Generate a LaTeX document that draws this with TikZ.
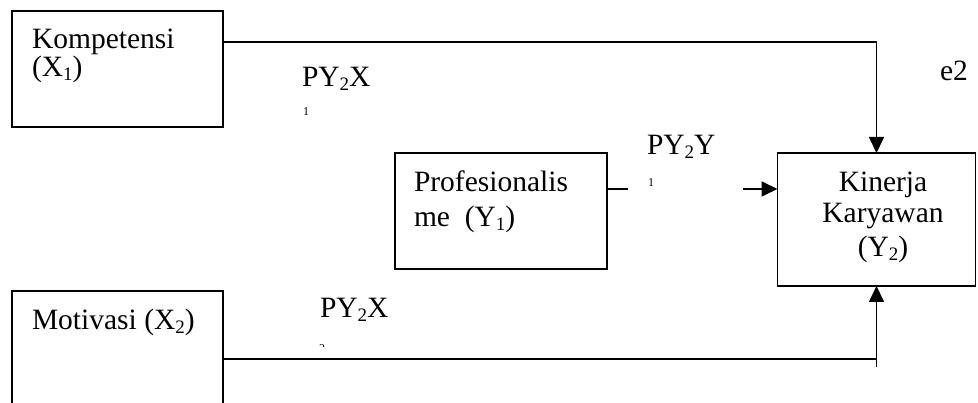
\documentclass[tikz,border=0pt]{standalone}
\usepackage{fontspec}
\setmainfont{Liberation Serif}
\usetikzlibrary{arrows.meta}
\newcommand\lowsub[1]{\raisebox{-4pt}{\fontsize{19}{19}\selectfont #1}}
\newcommand\tinydig[1]{{\fontsize{12}{12}\selectfont #1}}
\tikzset{
  boxnode/.style={draw, line width=1.8pt, inner sep=0pt, outer sep=0pt},
  txt/.style={inner sep=0pt, outer sep=0pt, font=\fontsize{29.5}{33}\selectfont},
  conn/.style={line width=1.7pt},
  arr/.style={line width=1.7pt, -{Triangle[length=16pt,width=15pt]}}
}
\begin{document}
\begin{tikzpicture}[x=1pt,y=-1pt]
\useasboundingbox (0,0) rectangle (978,403);
\clip (0,0) rectangle (978,403);
\fill[white] (0,0) rectangle (978,403);
% boxes
\node[boxnode, minimum width=211pt, minimum height=116pt] (komp) at (117.5,69) {};
\node[boxnode, minimum width=212pt, minimum height=116pt] (prof) at (501,211) {};
\node[boxnode, minimum width=198pt, minimum height=133pt] (kin) at (876.5,219.5) {};
\node[boxnode, minimum width=211pt, minimum height=140pt] (motiv) at (117.5,361) {};
% box texts
\node[txt, anchor=base west] (kompa) at (32,49) {Kompetensi};
\node[txt, anchor=base west] (kompb) at (32,77) {(X\lowsub{1})};
\node[txt, anchor=base west] (profa) at (414,192) {Profesionalis};
\node[txt, anchor=base west] (profb) at (414,227) {me\ \ (Y\lowsub{1})};
\node[txt, anchor=base] (kina) at (883,192) {Kinerja};
\node[txt, anchor=base] (kinb) at (883,223) {Karyawan};
\node[txt, anchor=base] (kinc) at (883,257) {(Y\lowsub{2})};
\node[txt, anchor=base west] (motiva) at (32,330) {Motivasi (X\lowsub{2})};
% path labels
\node[txt, anchor=base west] (l1) at (302,87) {PY\lowsub{2}X};
\node[inner sep=0pt, anchor=base west] (l1b) at (303,116) {\tinydig{1}};
\node[txt, anchor=base west] (l2) at (647,155) {PY\lowsub{2}Y};
\node[inner sep=0pt, anchor=base west] (l2b) at (648,187) {\tinydig{1}};
\node[txt, anchor=base west] (e2) at (940,81) {e2};
\node[txt, anchor=base west] (l3) at (320,318) {PY\lowsub{2}X};
\begin{scope}
\clip (300,330) rectangle (360,347);
\node[inner sep=0pt, anchor=base west] (l3b) at (319,353) {\tinydig{2}};
\end{scope}
% connectors
\coordinate (stubend) at (628,189);
\coordinate (arrstart) at (743,189);
\draw[conn] (komp.east |- 0,42) -- (kin.north |- 0,42);
\draw[arr] (kin.north |- 0,42) -- (kin.north);
\draw[conn] (prof.east |- stubend) -- (stubend);
\draw[arr] (arrstart) -- (arrstart -| kin.west);
\draw[conn] (motiv.east |- 0,359) -- (kin.south |- 0,359);
\draw[arr] (kin.south |- 0,367) -- (kin.south);
\end{tikzpicture}
\end{document}
